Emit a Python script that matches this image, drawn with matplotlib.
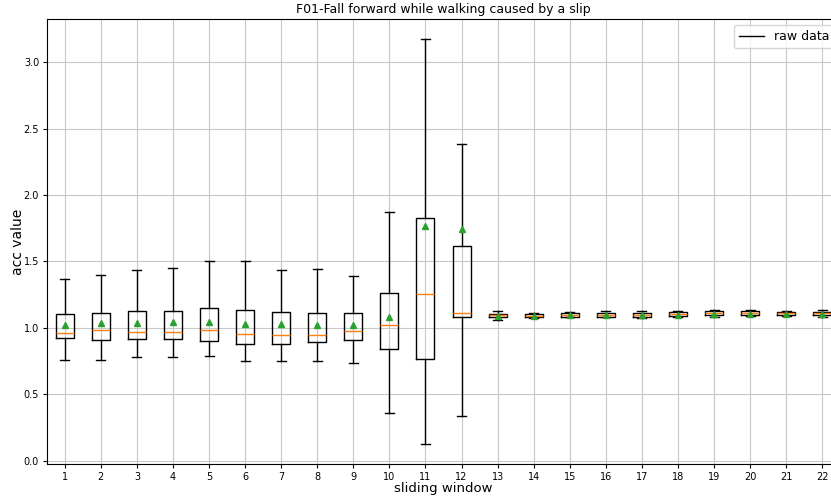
import matplotlib
matplotlib.use("Agg")
import matplotlib.pyplot as plt

# sliding window index
windows = list(range(1, 23))

# box statistics
whis_low = [0.758, 0.756, 0.778, 0.778, 0.788, 0.753, 0.753, 0.751, 0.733, 0.357, 0.126, 0.339,
            1.057, 1.075, 1.080, 1.080, 1.078, 1.082, 1.085, 1.090, 1.090, 1.085]
q1 = [0.924, 0.909, 0.914, 0.914, 0.904, 0.876, 0.876, 0.891, 0.909, 0.843, 0.763, 1.082,
      1.080, 1.082, 1.085, 1.085, 1.085, 1.090, 1.095, 1.097, 1.097, 1.095]
medians = [0.964, 0.982, 0.971, 0.971, 0.987, 0.954, 0.944, 0.949, 0.974, 1.024, 1.255, 1.110,
           1.094, 1.093, 1.097, 1.100, 1.100, 1.105, 1.110, 1.110, 1.110, 1.110]
q3 = [1.105, 1.110, 1.125, 1.130, 1.147, 1.135, 1.117, 1.115, 1.115, 1.260, 1.830, 1.614,
      1.107, 1.107, 1.110, 1.112, 1.115, 1.120, 1.125, 1.125, 1.123, 1.122]
whis_high = [1.368, 1.400, 1.434, 1.453, 1.500, 1.500, 1.434, 1.443, 1.393, 1.875, 3.175, 2.382,
             1.125, 1.115, 1.122, 1.125, 1.130, 1.125, 1.133, 1.133, 1.130, 1.133]
means = [1.024, 1.035, 1.035, 1.042, 1.042, 1.027, 1.027, 1.024, 1.024, 1.084, 1.767, 1.747,
         1.092, 1.090, 1.095, 1.097, 1.098, 1.100, 1.105, 1.107, 1.107, 1.105]


def make_stats():
    stats = []
    for i in range(len(windows)):
        stats.append({
            "label": str(windows[i]),
            "whislo": whis_low[i],
            "q1": q1[i],
            "med": medians[i],
            "q3": q3[i],
            "whishi": whis_high[i],
            "mean": means[i],
            "fliers": [],
        })
    return stats


def plot():
    fig = plt.figure(figsize=(8.31, 4.97), dpi=100)
    # the original picture is cropped on the right, so the axes run past the edge
    ax = fig.add_axes([0.0562, 0.0658, 0.955, 0.896])
    ax.bxp(make_stats(), positions=windows, showmeans=True, showfliers=False,
           meanprops=dict(marker="^", markerfacecolor="C2", markeredgecolor="C2", markersize=4.5))
    ax.plot([], [], color="black", linewidth=1, label="raw data")
    ax.set_xlim(0.5, 22.5)
    ax.set_ylim(-0.027, 3.326)
    ax.grid(True, color="#c8c8c8")
    ax.tick_params(labelsize=7, length=3, pad=2.5)
    ax.set_title("F01-Fall forward while walking caused by a slip", fontsize=9, pad=4)
    ax.set_xlabel("sliding window", fontsize=9.5, labelpad=0)
    ax.set_ylabel("acc value", fontsize=10, labelpad=-1)
    ax.legend(loc="upper right", fontsize=9)
    fig.savefig("out.png", dpi=100)


if __name__ == "__main__":
    plot()
